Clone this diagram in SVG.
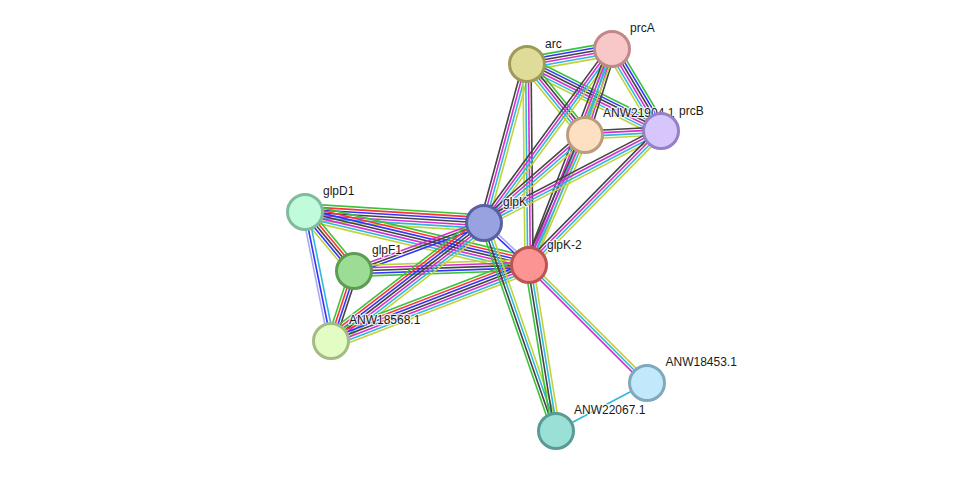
<svg xmlns="http://www.w3.org/2000/svg" width="975" height="477" viewBox="0 0 975 477">
<style>
line{stroke-width:1.6;fill:none}
.g{stroke:#3bc43b}.r{stroke:#ff3333}.b{stroke:#3333ff}.k{stroke:#444}.m{stroke:#d42fd4}.c{stroke:#30b8dc}.y{stroke:#c0d43a}.h{stroke:#aaaaee}
.n{stroke-width:3}
text{font-family:"Liberation Sans",Arial,sans-serif;font-size:12px;fill:#1a1a1a;stroke:#fff;stroke-width:2.5;stroke-opacity:0.8;paint-order:stroke;stroke-linejoin:round}
</style>
<rect width="975" height="477" fill="#fff"/>
<g id="edges">
<g transform="translate(527 64) rotate(-10.01)"><line x2="86.3" y1="-6.75" y2="-6.75" class="g"/><line x2="86.3" y1="-4.05" y2="-4.05" class="b"/><line x2="86.3" y1="-1.35" y2="-1.35" class="k"/><line x2="86.3" y1="1.35" y2="1.35" class="m"/><line x2="86.3" y1="4.05" y2="4.05" class="c"/><line x2="86.3" y1="6.75" y2="6.75" class="y"/></g>
<g transform="translate(527 64) rotate(26.57)"><line x2="149.8" y1="-6.75" y2="-6.75" class="g"/><line x2="149.8" y1="-4.05" y2="-4.05" class="b"/><line x2="149.8" y1="-1.35" y2="-1.35" class="k"/><line x2="149.8" y1="1.35" y2="1.35" class="m"/><line x2="149.8" y1="4.05" y2="4.05" class="c"/><line x2="149.8" y1="6.75" y2="6.75" class="y"/></g>
<g transform="translate(527 64) rotate(50.75)"><line x2="91.7" y1="-5.4" y2="-5.4" class="g"/><line x2="91.7" y1="-2.7" y2="-2.7" class="k"/><line x2="91.7" class="m"/><line x2="91.7" y1="2.7" y2="2.7" class="c"/><line x2="91.7" y1="5.4" y2="5.4" class="y"/></g>
<g transform="translate(484 223) rotate(-74.87)"><line x2="164.7" y1="-4.05" y2="-4.05" class="k"/><line x2="164.7" y1="-1.35" y2="-1.35" class="m"/><line x2="164.7" y1="1.35" y2="1.35" class="c"/><line x2="164.7" y1="4.05" y2="4.05" class="y"/></g>
<g transform="translate(527 64) rotate(89.43)"><line x2="201" y1="-4.05" y2="-4.05" class="k"/><line x2="201" y1="-1.35" y2="-1.35" class="m"/><line x2="201" y1="1.35" y2="1.35" class="c"/><line x2="201" y1="4.05" y2="4.05" class="y"/></g>
<g transform="translate(612 49) rotate(59.13)"><line x2="95.5" y1="-6.75" y2="-6.75" class="g"/><line x2="95.5" y1="-4.05" y2="-4.05" class="b"/><line x2="95.5" y1="-1.35" y2="-1.35" class="k"/><line x2="95.5" y1="1.35" y2="1.35" class="m"/><line x2="95.5" y1="4.05" y2="4.05" class="c"/><line x2="95.5" y1="6.75" y2="6.75" class="y"/></g>
<g transform="translate(612 49) rotate(107.43)"><line x2="90.1" y1="-4.05" y2="-4.05" class="k"/><line x2="90.1" y1="-1.35" y2="-1.35" class="m"/><line x2="90.1" y1="1.35" y2="1.35" class="c"/><line x2="90.1" y1="4.05" y2="4.05" class="y"/></g>
<g transform="translate(484 223) rotate(-53.66)"><line x2="216" y1="-4.05" y2="-4.05" class="k"/><line x2="216" y1="-1.35" y2="-1.35" class="m"/><line x2="216" y1="1.35" y2="1.35" class="c"/><line x2="216" y1="4.05" y2="4.05" class="y"/></g>
<g transform="translate(529 265) rotate(-68.98)"><line x2="231.4" y1="-4.05" y2="-4.05" class="k"/><line x2="231.4" y1="-1.35" y2="-1.35" class="m"/><line x2="231.4" y1="1.35" y2="1.35" class="c"/><line x2="231.4" y1="4.05" y2="4.05" class="y"/></g>
<g transform="translate(585 135) rotate(-3.01)"><line x2="76.1" y1="-4.05" y2="-4.05" class="k"/><line x2="76.1" y1="-1.35" y2="-1.35" class="m"/><line x2="76.1" y1="1.35" y2="1.35" class="c"/><line x2="76.1" y1="4.05" y2="4.05" class="y"/></g>
<g transform="translate(484 223) rotate(-41.06)"><line x2="134" y1="-4.05" y2="-4.05" class="k"/><line x2="134" y1="-1.35" y2="-1.35" class="m"/><line x2="134" y1="1.35" y2="1.35" class="c"/><line x2="134" y1="4.05" y2="4.05" class="y"/></g>
<g transform="translate(529 265) rotate(-66.69)"><line x2="141.6" y1="-4.05" y2="-4.05" class="k"/><line x2="141.6" y1="-1.35" y2="-1.35" class="m"/><line x2="141.6" y1="1.35" y2="1.35" class="c"/><line x2="141.6" y1="4.05" y2="4.05" class="y"/></g>
<g transform="translate(484 223) rotate(-27.46)"><line x2="199.5" y1="-4.05" y2="-4.05" class="k"/><line x2="199.5" y1="-1.35" y2="-1.35" class="m"/><line x2="199.5" y1="1.35" y2="1.35" class="c"/><line x2="199.5" y1="4.05" y2="4.05" class="y"/></g>
<g transform="translate(529 265) rotate(-45.43)"><line x2="188.1" y1="-4.05" y2="-4.05" class="k"/><line x2="188.1" y1="-1.35" y2="-1.35" class="m"/><line x2="188.1" y1="1.35" y2="1.35" class="c"/><line x2="188.1" y1="4.05" y2="4.05" class="y"/></g>
<g transform="translate(305 212) rotate(3.52)"><line x2="179.3" y1="-8.1" y2="-8.1" class="g"/><line x2="179.3" y1="-5.4" y2="-5.4" class="r"/><line x2="179.3" y1="-2.7" y2="-2.7" class="b"/><line x2="179.3" class="k"/><line x2="179.3" y1="2.7" y2="2.7" class="m"/><line x2="179.3" y1="5.4" y2="5.4" class="c"/><line x2="179.3" y1="8.1" y2="8.1" class="y"/></g>
<g transform="translate(305 212) rotate(13.31)"><line x2="230.2" y1="-8.1" y2="-8.1" class="g"/><line x2="230.2" y1="-5.4" y2="-5.4" class="r"/><line x2="230.2" y1="-2.7" y2="-2.7" class="b"/><line x2="230.2" class="k"/><line x2="230.2" y1="2.7" y2="2.7" class="m"/><line x2="230.2" y1="5.4" y2="5.4" class="c"/><line x2="230.2" y1="8.1" y2="8.1" class="y"/></g>
<g transform="translate(305 212) rotate(50.29)"><line x2="76.7" y1="-5.4" y2="-5.4" class="g"/><line x2="76.7" y1="-2.7" y2="-2.7" class="r"/><line x2="76.7" class="k"/><line x2="76.7" y1="2.7" y2="2.7" class="b"/><line x2="76.7" y1="5.4" y2="5.4" class="y"/></g>
<g transform="translate(331 341) rotate(-101.4)"><line x2="131.6" y1="-2.7" y2="-2.7" class="h"/><line x2="131.6" class="b"/><line x2="131.6" y1="3.2" y2="3.2" class="c"/></g>
<g transform="translate(354 271) rotate(-20.27)"><line x2="138.6" y1="-2.7" y2="-2.7" class="m"/><line x2="138.6" class="k"/><line x2="138.6" y1="2.7" y2="2.7" class="b"/></g>
<g transform="translate(354 271) rotate(-1.96)"><line x2="175.1" y1="-5.4" y2="-5.4" class="y"/><line x2="175.1" y1="-2.7" y2="-2.7" class="m"/><line x2="175.1" class="k"/><line x2="175.1" y1="2.7" y2="2.7" class="b"/><line x2="175.1" y1="5.4" y2="5.4" class="g"/></g>
<g transform="translate(331 341) rotate(-71.81)"><line x2="73.7" y1="-4.05" y2="-4.05" class="g"/><line x2="73.7" y1="-1.35" y2="-1.35" class="r"/><line x2="73.7" y1="1.35" y2="1.35" class="b"/><line x2="73.7" y1="4.05" y2="4.05" class="k"/></g>
<g transform="translate(331 341) rotate(-37.64)"><line x2="193.2" y1="-8.1" y2="-8.1" class="g"/><line x2="193.2" y1="-5.4" y2="-5.4" class="r"/><line x2="193.2" y1="-2.7" y2="-2.7" class="b"/><line x2="193.2" class="k"/><line x2="193.2" y1="2.7" y2="2.7" class="m"/><line x2="193.2" y1="5.4" y2="5.4" class="c"/><line x2="193.2" y1="8.1" y2="8.1" class="y"/></g>
<g transform="translate(331 341) rotate(-21)"><line x2="212.1" y1="-8.1" y2="-8.1" class="g"/><line x2="212.1" y1="-5.4" y2="-5.4" class="r"/><line x2="212.1" y1="-2.7" y2="-2.7" class="b"/><line x2="212.1" class="k"/><line x2="212.1" y1="2.7" y2="2.7" class="m"/><line x2="212.1" y1="5.4" y2="5.4" class="c"/><line x2="212.1" y1="8.1" y2="8.1" class="y"/></g>
<g transform="translate(484 223) rotate(43.03)"><line x2="61.6" y1="-1.35" y2="-1.35" class="h"/><line x2="61.6" y1="1.35" y2="1.35" class="b"/></g>
<g transform="translate(556 431) rotate(-109.09)"><line x2="220.1" y1="-4.05" y2="-4.05" class="g"/><line x2="220.1" y1="-1.35" y2="-1.35" class="k"/><line x2="220.1" y1="1.35" y2="1.35" class="c"/><line x2="220.1" y1="4.05" y2="4.05" class="y"/></g>
<g transform="translate(556 431) rotate(-99.24)"><line x2="168.2" y1="-4.05" y2="-4.05" class="g"/><line x2="168.2" y1="-1.35" y2="-1.35" class="k"/><line x2="168.2" y1="1.35" y2="1.35" class="c"/><line x2="168.2" y1="4.05" y2="4.05" class="y"/></g>
<g transform="translate(647 383) rotate(-135)"><line x2="166.9" y1="-2.7" y2="-2.7" class="m"/><line x2="166.9" class="c"/><line x2="166.9" y1="2.7" y2="2.7" class="y"/></g>
<line x1="556" y1="431" x2="647" y2="383" class="c"/>
</g>
<g id="labels">
<text x="545" y="47.5">arc</text>
<text x="630" y="32">prcA</text>
<text x="603" y="117">ANW21904.1</text>
<text x="679" y="114.5">prcB</text>
<text x="323" y="195">glpD1</text>
<text x="503" y="205.5">glpK</text>
<text x="372" y="254">glpF1</text>
<text x="547" y="248.5">glpK-2</text>
<text x="349" y="323.5">ANW18568.1</text>
<text x="665.5" y="366">ANW18453.1</text>
<text x="574" y="414">ANW22067.1</text>
</g>
<g id="node-arc"><circle class="n" cx="527" cy="64" r="17.5" fill="#dfdc99" stroke="#9e9a58"/></g>
<g id="node-prcA"><circle class="n" cx="612" cy="49" r="17.5" fill="#f8c8c8" stroke="#c08888"/></g>
<g id="node-ANW21904.1"><circle class="n" cx="585" cy="135" r="17.5" fill="#fddfc2" stroke="#bc9c80"/></g>
<g id="node-prcB"><circle class="n" cx="661" cy="131" r="17.5" fill="#d6c6fc" stroke="#9680c6"/></g>
<g id="node-glpD1"><circle class="n" cx="305" cy="212" r="17.5" fill="#c0fcdc" stroke="#80bc9c"/></g>
<g id="node-glpK"><circle class="n" cx="484" cy="223" r="17.5" fill="#98a2e0" stroke="#5862a0"/></g>
<g id="node-glpF1"><circle class="n" cx="354" cy="271" r="17.5" fill="#9cdc94" stroke="#5c9c54"/></g>
<g id="node-glpK-2"><circle class="n" cx="529" cy="265" r="17.5" fill="#fc9494" stroke="#bc5454"/></g>
<g id="node-ANW18568.1"><circle class="n" cx="331" cy="341" r="17.5" fill="#e2fcc4" stroke="#a2bc84"/></g>
<g id="node-ANW18453.1"><circle class="n" cx="647" cy="383" r="17.5" fill="#c2e8fc" stroke="#82a8bc"/></g>
<g id="node-ANW22067.1"><circle class="n" cx="556" cy="431" r="17.5" fill="#9ae0d6" stroke="#5a9c94"/></g>
</svg>
